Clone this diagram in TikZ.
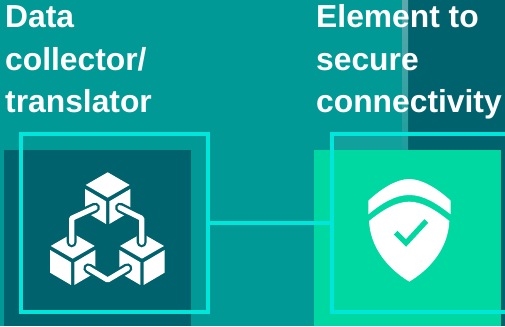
\documentclass[tikz,border=0pt]{standalone}
\usepackage{fontspec}
\setmainfont{Liberation Sans}
\definecolor{tealbg}{HTML}{009996}
\definecolor{darkteal}{HTML}{00626C}
\definecolor{mint}{HTML}{00D8A2}
\definecolor{cyanline}{HTML}{00E6DA}
\definecolor{stripc}{HTML}{5FA8AC}
\tikzset{
  frameline/.style={draw=cyanline,line width=4pt,inner sep=0pt,miter limit=10},
  wirec/.style={draw=cyanline,line width=3.2pt},
  title/.style={anchor=base west,inner sep=0pt,text=white,font=\fontsize{31.8}{31.8}\selectfont\bfseries},
  linkout/.style={draw=darkteal,line width=10pt,line cap=round,line join=round},
  linkin/.style={draw=white,line width=5.2pt,line cap=round,line join=round},
}
% cube given by its apex, in units of 1/3 pixel
\newcommand{\cubeat}[2]{%
  \begin{scope}[shift={(#1,#2)},x=0.3333pt,y=-0.3333pt]
    \fill[white] (0,0) -- (66,38) -- (0,76) -- (-66,38) -- cycle;
    \fill[white] (-68,50) -- (-5,87) -- (-5,155) -- (-68,118) -- cycle;
    \fill[white] (68,50) -- (5,87) -- (5,155) -- (68,118) -- cycle;
  \end{scope}}
\begin{document}
\begin{tikzpicture}[x=1pt,y=-1pt]
\useasboundingbox (0,0) rectangle (505,326);
% background
\fill[tealbg] (0,0) rectangle (402,326);
\fill[darkteal] (402,0) rectangle (505,326);
\shade[top color=stripc,bottom color=tealbg!70!stripc] (402,0) rectangle (408,150);
% lighter veil inside the right frame
\fill[white,opacity=0.07] (333,136) rectangle (402,150);
% squares
\fill[darkteal] (4,150) rectangle (191,326);
\fill[mint] (314,150) rectangle (501,326);
% frames
\node[frameline,minimum width=186.5pt,minimum height=177.5pt] (leftframe) at (114.25,223) {};
\node[frameline,minimum width=178.5pt,minimum height=177.5pt] (rightframe) at (420.75,223) {};
\draw[wirec] (leftframe.east) -- (rightframe.west);
% cubes: positions follow the crop (40,165) at 3x
\cubeat{107.7}{172.3}
\cubeat{72.7}{233.3}
\cubeat{142}{233.3}
% links
\begin{scope}[shift={(40,165)},x=0.3333pt,y=-0.3333pt]
  \draw[linkout] (165,128) -- (95,160) -- (95,232);
  \draw[linkin]  (165,128) -- (95,160) -- (95,232);
  \draw[linkout] (240,128) -- (305,160) -- (305,232);
  \draw[linkin]  (240,128) -- (305,160) -- (305,232);
  \draw[linkout] (145,310) -- (203,345) -- (262,310);
  \draw[linkin]  (145,310) -- (203,345) -- (262,310);
\end{scope}
% shield: positions follow the crop (355,170) at 3x
\begin{scope}[shift={(355,170)},x=0.3333pt,y=-0.3333pt]
  \fill[white] (40,92) .. controls (80,55) and (125,27) .. (163,27)
     .. controls (200,27) and (247,55) .. (287,92)
     -- (287,133) .. controls (245,100) and (205,75) .. (163,75)
     .. controls (120,75) and (80,100) .. (40,133) -- cycle;
  \fill[white] (42,153) .. controls (85,118) and (125,95) .. (163,95)
     .. controls (200,95) and (240,118) .. (283,153)
     .. controls (280,232) and (228,296) .. (163,335)
     .. controls (98,296) and (46,232) .. (42,153) -- cycle;
  \draw[draw=mint,line width=5.2pt,miter limit=10] (122,188) -- (153,219) -- (214,153);
\end{scope}
% titles
\node[title] (t1) at (5,28) {Data};
\node[title] (t2) at (5,70.5) {collector/};
\node[title] (t3) at (5,113) {translator};
\node[title] (t4) at (316,28) {Element to};
\node[title] (t5) at (316,70.5) {secure};
\node[title] (t6) at (316,113) {connectivity};
\end{tikzpicture}
\end{document}
